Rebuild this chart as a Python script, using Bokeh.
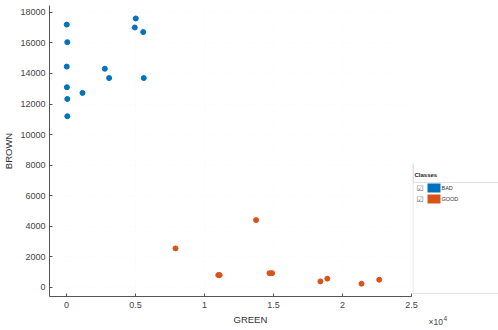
from bokeh.plotting import figure
from bokeh.layouts import row
from bokeh.models import (Range1d, FixedTicker, CustomJSTickFormatter, Label,
                          BoxAnnotation, ColumnDataSource, Title)
from bokeh.embed import file_html
from bokeh.resources import INLINE

# Measurements per class
bad_green = [20, 60, 20, 30, 60, 60, 1160, 2780, 3090, 5020, 4950, 5560, 5600]
bad_brown = [17200, 16050, 14450, 13100, 12330, 11200, 12730, 14310, 13700,
             17600, 17010, 16710, 13700]
good_green = [7900, 11000, 11100, 13740, 14710, 14900, 18400, 18900, 21380, 22660]
good_brown = [2550, 800, 800, 4400, 930, 930, 390, 570, 240, 500]

class_names = ["BAD", "GOOD"]
class_colors = ["#0072BD", "#D95319"]

x_ticks = [0, 5000, 10000, 15000, 20000, 25000]
y_ticks = [0, 2000, 4000, 6000, 8000, 10000, 12000, 14000, 16000, 18000]

FONT = "Liberation Sans"
TEXT = "#444444"

# ---- scatter panel -------------------------------------------------------
p = figure(width=420, height=330, output_backend="svg", toolbar_location=None,
           x_range=Range1d(-1230, 25000), y_range=Range1d(-600, 18450),
           min_border_left=48, min_border_right=9,
           min_border_top=5, min_border_bottom=34)
p.outline_line_color = None
p.frame_align = False

for axis, ticks in ((p.xaxis[0], x_ticks), (p.yaxis[0], y_ticks)):
    axis.ticker = FixedTicker(ticks=ticks)
    axis.axis_line_color = "#555555"
    axis.major_tick_line_color = "#555555"
    axis.major_tick_in = 3
    axis.major_tick_out = 0
    axis.minor_tick_line_color = None
    axis.major_label_text_font = FONT
    axis.major_label_text_font_size = "9px"
    axis.major_label_text_color = TEXT
    axis.major_label_standoff = 4

p.xaxis.major_label_standoff = 5
p.xaxis.formatter = CustomJSTickFormatter(code="return String(tick / 1e4);")

p.yaxis.axis_label = "BROWN"
p.yaxis.axis_label_text_font = FONT
p.yaxis.axis_label_text_font_size = "9.5px"
p.yaxis.axis_label_text_font_style = "normal"
p.yaxis.axis_label_text_color = "#333333"
p.yaxis.axis_label_standoff = 3

p.add_layout(Title(text="GREEN", align="left", offset=184, standoff=2,
                   text_font=FONT, text_font_size="9.5px",
                   text_font_style="normal", text_color="#333333"), "below")

p.grid.grid_line_color = "#d0d0d0"
p.grid.grid_line_alpha = 0.2
p.grid.grid_line_dash = "1 4"

src_bad = ColumnDataSource(dict(x=bad_green, y=bad_brown))
src_good = ColumnDataSource(dict(x=good_green, y=good_brown))
p.scatter("x", "y", source=src_bad, size=5, fill_color=class_colors[0],
          line_color=class_colors[0])
p.scatter("x", "y", source=src_good, size=5, fill_color=class_colors[1],
          line_color=class_colors[1])

# ---- class panel (pixel coordinates, y downwards) ------------------------
lg = figure(width=86, height=330, output_backend="svg", toolbar_location=None,
            x_range=Range1d(0, 86), y_range=Range1d(330, 0),
            x_axis_type=None, y_axis_type=None, min_border=0,
            margin=(0, 0, 0, -8))
lg.frame_align = False
lg.grid.visible = False
lg.outline_line_color = None
lg.background_fill_alpha = 0
lg.border_fill_alpha = 0

lg.add_layout(BoxAnnotation(left=0.5, right=100, top=182, bottom=293,
                            fill_color="white", fill_alpha=1,
                            line_color="#9a9a9a", line_width=1))
lg.add_layout(BoxAnnotation(left=0, right=1, top=163, bottom=182,
                            fill_color="#c8c8c8", fill_alpha=1, line_color=None))
lg.add_layout(Label(x=2, y=177, text="Classes", text_font=FONT,
                    text_font_size="6px", text_font_style="bold",
                    text_color="#222222"))

for i, (name, color) in enumerate(zip(class_names, class_colors)):
    top = 183 + 11 * i
    lg.add_layout(BoxAnnotation(left=15, right=28, top=top, bottom=top + 9,
                                fill_color=color, fill_alpha=1, line_color=None))
    lg.add_layout(Label(x=4, y=top + 9, text="☑", text_font="DejaVu Sans",
                        text_font_size="8px", text_color="#666666"))
    lg.add_layout(Label(x=29, y=top + 7, text=name, text_font=FONT,
                        text_font_size="5.5px", text_color="#333333"))

# axis exponent for GREEN
lg.add_layout(Label(x=16, y=326, text="×10", text_font=FONT,
                    text_font_size="8.5px", text_color=TEXT))
lg.add_layout(Label(x=31, y=320, text="4", text_font=FONT,
                    text_font_size="6.5px", text_color=TEXT))

layout = row(p, lg, spacing=0)
open("out.html", "w").write(file_html(layout, INLINE))
